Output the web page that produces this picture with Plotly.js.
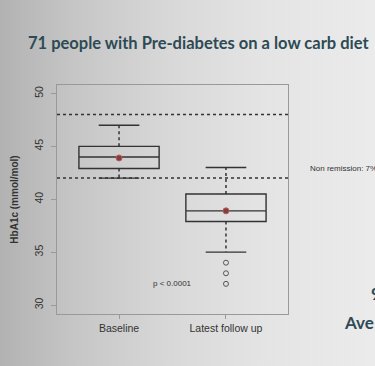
<!DOCTYPE html>
<html>
<head>
<meta charset="utf-8">
<script src="https://cdn.plot.ly/plotly-3.0.1.min.js"></script>
<style>
html, body { margin:0; padding:0; width:375px; height:366px; overflow:hidden;
  background: linear-gradient(to right, #b2b2b2 0%, #c6c6c6 20%, #d8d8d8 45%, #e4e4e4 70%, #ebebeb 100%); }
#chart { width:375px; height:366px; }
</style>
</head>
<body>
<div id="chart"></div>
<script>
// ---- data ----
const categories = ["Baseline", "Latest follow up"];
const positions = [1, 2];
const q1 = [42.9, 37.9];
const median = [44.0, 38.9];
const q3 = [45.0, 40.5];
const lowerWhisker = [42.0, 35.0];
const upperWhisker = [47.0, 43.0];
const means = [43.9, 38.9];
const outlierGroup = [2, 2, 2];
const outlierValues = [34.0, 33.0, 32.0];
const refLines = [48, 42];
const yTicks = [30, 35, 40, 45, 50];

// ---- styling ----
const boxWidth = 0.75;
const capHalf = 0.19;
const dark = '#333333';

const boxTrace = {
  type: 'box', x: positions, q1: q1, median: median, q3: q3,
  lowerfence: q1, upperfence: q3, width: boxWidth, whiskerwidth: 0,
  fillcolor: 'rgba(0,0,0,0)', line: {color: dark, width: 1.4},
  boxpoints: false, hoverinfo: 'skip', showlegend: false
};

// dotted whiskers
const wx = [], wy = [];
positions.forEach((p, i) => {
  wx.push(p, p, null, p, p, null);
  wy.push(q3[i], upperWhisker[i], null, q1[i], lowerWhisker[i], null);
});
const whiskers = {type:'scatter', mode:'lines', x:wx, y:wy,
  line:{color:dark, width:1.5, dash:'dot'}, hoverinfo:'skip', showlegend:false};

// solid caps
const cx = [], cy = [];
positions.forEach((p, i) => {
  cx.push(p - capHalf, p + capHalf, null, p - capHalf, p + capHalf, null);
  cy.push(upperWhisker[i], upperWhisker[i], null, lowerWhisker[i], lowerWhisker[i], null);
});
const caps = {type:'scatter', mode:'lines', x:cx, y:cy,
  line:{color:dark, width:1.4}, hoverinfo:'skip', showlegend:false};

const meanTrace = {type:'scatter', mode:'markers', x:positions, y:means,
  marker:{color:'#8a3b3b', size:6, line:{color:'#b06060', width:1}}, showlegend:false};

const outliers = {type:'scatter', mode:'markers', x:outlierGroup, y:outlierValues,
  marker:{symbol:'circle-open', color:'#555', size:5, line:{width:1}}, showlegend:false};

const shapes = refLines.map(v => ({type:'line', xref:'paper', x0:0, x1:1, yref:'y', y0:v, y1:v,
  line:{color:'#333', width:1.5, dash:'dot'}, layer:'below'}));

const teal = '#2d4a55';
const layout = {
  width:375, height:366,
  margin:{l:57, r:87, t:85, b:52},
  paper_bgcolor:'rgba(0,0,0,0)', plot_bgcolor:'rgba(0,0,0,0)',
  font:{family:'Liberation Sans, Arial, sans-serif', color:dark},
  title:{text:'<b>71 people with Pre-diabetes on a low carb diet</b>',
    font:{family:'Lato, sans-serif', size:16.5, color:teal},
    x:28/375, xanchor:'left', xref:'container', yref:'container', y:1-43/366, yanchor:'middle'},
  xaxis:{range:[0.42, 2.58], tickmode:'array', tickvals:positions, ticktext:categories,
    ticks:'outside', ticklen:4, tickcolor:'#999', showline:true, mirror:true,
    linecolor:'#999', linewidth:1, showgrid:false, zeroline:false,
    tickfont:{size:10.5, color:dark}, fixedrange:true},
  yaxis:{range:[29.15, 50.8], tickmode:'array', tickvals:yTicks,
    ticks:'outside', ticklen:5, tickcolor:'#999', showline:true, mirror:true,
    linecolor:'#999', linewidth:1, showgrid:false, zeroline:false, tickangle:-90,
    tickfont:{size:10.5, color:dark}, ticklabelstandoff:4,
    title:{text:'<b>HbA1c (mmol/mol)</b>', font:{size:10, color:dark}, standoff:12}},
  shapes: shapes,
  annotations:[
    {text:'p < 0.0001', x:1.5, y:32, xref:'x', yref:'y', showarrow:false,
     font:{size:8, color:dark}},
    {text:'Non remission: 7%', x:(308-57)/231, y:(314-168)/229, xref:'paper', yref:'paper',
     xanchor:'left', yanchor:'middle', showarrow:false, font:{size:8, color:dark}},
    {text:'<b>9</b>', x:(369-57)/231, y:(314-293)/229, xref:'paper', yref:'paper',
     xanchor:'left', yanchor:'middle', showarrow:false, font:{family:'Lato, sans-serif', size:17, color:teal}},
    {text:'<b>Ave</b>', x:(342-57)/231, y:(314-322)/229, xref:'paper', yref:'paper',
     xanchor:'left', yanchor:'middle', showarrow:false, font:{family:'Lato, sans-serif', size:17, color:teal}}
  ]
};

Plotly.newPlot('chart', [boxTrace, whiskers, caps, outliers, meanTrace], layout, {displayModeBar:false, staticPlot:true});
</script>
</body>
</html>
